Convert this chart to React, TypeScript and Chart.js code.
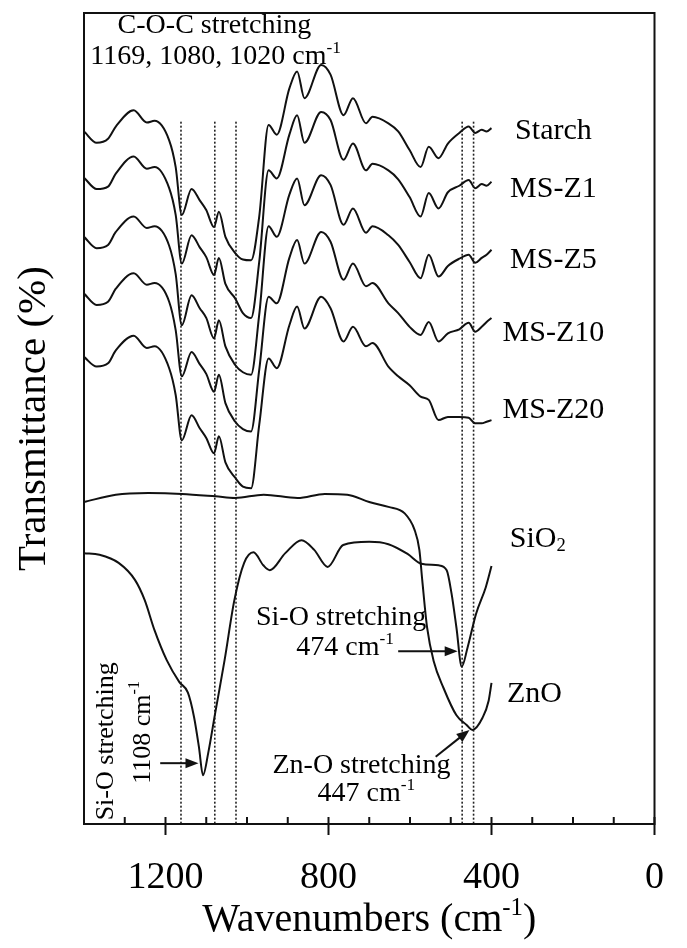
import React, { useEffect, useRef } from 'react';
import { Chart, registerables } from 'chart.js';

Chart.register(...registerables);

const FONT = "'Liberation Serif', 'Times New Roman', serif";
const INK = '#111111';

// ---- data (wavenumber in cm-1, transmittance in arbitrary stacked % units) ----
const msWavenumbers = [1400, 1369, 1341, 1322, 1278, 1246, 1227, 1191, 1175, 1160, 1136, 1116, 1100, 1081, 1069, 1053, 1029, 1010, 990, 970, 947, 927, 896, 877, 859, 818, 795, 763, 740, 708, 692, 653, 629, 601, 574, 554, 530, 507, 479, 456, 440, 424, 412, 400];
const starchT = [85.4, 84.0, 84.5, 86.0, 88.0, 86.5, 86.7, 84.3, 81.0, 75.1, 78.3, 76.9, 75.7, 73.6, 75.5, 72.4, 70.4, 69.6, 69.5, 74.9, 86.2, 85.0, 90.7, 92.8, 89.5, 93.6, 92.4, 87.4, 89.5, 86.4, 87.2, 86.4, 85.4, 83.1, 81.0, 83.5, 82.1, 83.9, 85.2, 86.0, 85.2, 85.6, 85.4, 85.8];
const msZ1T = [79.7, 78.3, 78.6, 80.2, 82.3, 80.8, 81.0, 78.4, 75.1, 69.1, 72.6, 71.1, 69.9, 67.7, 69.8, 66.6, 64.8, 63.0, 62.4, 69.3, 80.6, 79.6, 85.0, 87.4, 84.0, 87.8, 86.8, 81.9, 83.9, 80.6, 81.4, 80.6, 79.5, 77.3, 74.9, 77.8, 75.9, 77.9, 78.7, 79.4, 78.4, 78.9, 78.7, 79.2];
const msZ5T = [72.4, 71.0, 71.4, 73.0, 74.9, 73.5, 73.7, 71.3, 67.8, 61.5, 65.2, 63.6, 62.4, 59.9, 62.1, 58.9, 56.6, 55.7, 55.4, 62.8, 73.7, 72.4, 77.6, 79.6, 76.3, 80.0, 78.8, 73.9, 75.9, 72.9, 73.7, 72.6, 71.4, 69.3, 67.3, 70.2, 67.5, 68.8, 69.7, 70.2, 69.2, 69.8, 70.2, 70.8];
const msZ10T = [65.4, 64.0, 64.4, 66.0, 67.9, 66.5, 66.7, 64.4, 60.9, 55.2, 58.2, 56.7, 55.5, 53.3, 55.4, 51.9, 49.6, 48.7, 48.4, 56.0, 65.0, 64.2, 69.8, 72.0, 69.1, 73.0, 71.8, 67.1, 69.1, 66.3, 66.7, 64.2, 63.0, 61.3, 60.3, 61.9, 59.5, 60.5, 61.0, 61.8, 60.7, 61.3, 61.9, 62.4];
const msZ20T = [57.6, 56.4, 56.8, 58.4, 60.2, 58.7, 58.9, 56.2, 52.9, 47.3, 50.4, 48.8, 47.6, 45.7, 47.8, 44.6, 42.7, 41.6, 41.4, 49.2, 57.4, 56.2, 61.5, 63.8, 61.1, 65.0, 63.6, 59.5, 61.3, 58.9, 59.3, 56.4, 55.2, 54.1, 52.7, 52.3, 49.8, 50.2, 50.2, 50.1, 49.4, 49.4, 49.6, 49.8];

const sio2Wavenumbers = [1400, 1362, 1315, 1275, 1251, 1227, 1197, 1166, 1145, 1130, 1118, 1108, 1095, 1078, 1055, 1031, 1007, 984, 960, 944, 906, 866, 835, 802, 764, 700, 653, 606, 572, 530, 510, 498, 486, 473, 459, 438, 414, 400];
const sio2T = [33.4, 33.2, 32.2, 30.1, 27.6, 23.9, 20.2, 17.5, 16.2, 13.2, 9.5, 6.0, 8.8, 13.7, 20.2, 27.6, 32.2, 33.5, 31.9, 31.3, 33.4, 35.0, 33.8, 31.7, 34.4, 34.8, 34.5, 33.3, 32.1, 31.9, 31.3, 28.4, 24.2, 19.4, 21.7, 25.9, 29.2, 31.8];

const znoWavenumbers = [1400, 1322, 1242, 1160, 1077, 1029, 959, 876, 809, 754, 700, 653, 613, 589, 577, 570, 558, 542, 518, 486, 461, 447, 422, 407, 400];
const znoT = [39.7, 40.6, 40.8, 40.7, 40.4, 40.2, 40.6, 40.2, 40.7, 40.6, 39.7, 39.1, 38.3, 36.3, 33.8, 30.1, 24.2, 20.1, 16.8, 13.4, 12.2, 11.6, 13.1, 15.2, 17.4];

const xMin = 0;
const xMax = 1400;
const xMinorStep = 100;
const xMajorStep = 400;
const yMin = 0;
const yMax = 100;

// dotted guide lines (wavenumbers) and their top (transmittance units)
const guideLines = [1162, 1079, 1027, 472, 444];
const guideTop = 86.6;

type Seg = { t: string; k?: 'sup' | 'sub' };
type Note = { segs: Seg[]; x: number; y: number; size: number; align: 'left' | 'center'; rotate?: boolean };

const xTitle: Seg[] = [{ t: 'Wavenumbers (cm' }, { t: '-1', k: 'sup' }, { t: ')' }];

const seriesLabels: Note[] = [
  { segs: [{ t: 'Starch' }], x: 248, y: 85.4, size: 30, align: 'center' },
  { segs: [{ t: 'MS-Z1' }], x: 248, y: 78.3, size: 30, align: 'center' },
  { segs: [{ t: 'MS-Z5' }], x: 248, y: 69.5, size: 30, align: 'center' },
  { segs: [{ t: 'MS-Z10' }], x: 248, y: 60.5, size: 30, align: 'center' },
  { segs: [{ t: 'MS-Z20' }], x: 248, y: 51.0, size: 30, align: 'center' },
  { segs: [{ t: 'SiO' }, { t: '2', k: 'sub' }], x: 355, y: 35.1, size: 30, align: 'left' },
  { segs: [{ t: 'ZnO' }], x: 362, y: 16.0, size: 30, align: 'left' },
];

const notes: Note[] = [
  { segs: [{ t: 'C-O-C stretching' }], x: 1080, y: 98.5, size: 28, align: 'center' },
  { segs: [{ t: '1169, 1080, 1020 cm' }, { t: '-1', k: 'sup' }], x: 1077, y: 94.6, size: 28, align: 'center' },
  { segs: [{ t: 'Si-O stretching' }], x: 769, y: 25.5, size: 28, align: 'center' },
  { segs: [{ t: '474 cm' }, { t: '-1', k: 'sup' }], x: 759, y: 21.7, size: 28, align: 'center' },
  { segs: [{ t: 'Zn-O stretching' }], x: 719, y: 7.2, size: 28, align: 'center' },
  { segs: [{ t: '447 cm' }, { t: '-1', k: 'sup' }], x: 707, y: 3.7, size: 28, align: 'center' },
  { segs: [{ t: 'Si-O stretching' }], x: 1346, y: 10.2, size: 26, align: 'center', rotate: true },
  { segs: [{ t: '1108 cm' }, { t: '-1', k: 'sup' }], x: 1256, y: 11.3, size: 26, align: 'center', rotate: true },
];

const arrows = [
  { from: [1213, 7.5], to: [1119, 7.5] },
  { from: [629, 21.3], to: [483, 21.3] },
  { from: [537, 8.3], to: [454, 11.6] },
];

function drawRich(ctx: CanvasRenderingContext2D, segs: Seg[], x: number, y: number, size: number, align: 'left' | 'center') {
  const parts = segs.map((s) => {
    const fs = s.k ? size * 0.62 : size;
    ctx.font = `${fs}px ${FONT}`;
    return { ...s, fs, w: ctx.measureText(s.t).width };
  });
  const total = parts.reduce((a, p) => a + p.w, 0);
  let cx = align === 'center' ? x - total / 2 : x;
  ctx.textAlign = 'left';
  ctx.textBaseline = 'middle';
  for (const p of parts) {
    ctx.font = `${p.fs}px ${FONT}`;
    const dy = p.k === 'sup' ? -size * 0.3 : p.k === 'sub' ? size * 0.22 : 0;
    ctx.fillText(p.t, cx, y + dy);
    cx += p.w;
  }
}

function drawArrow(ctx: CanvasRenderingContext2D, x1: number, y1: number, x2: number, y2: number) {
  const ang = Math.atan2(y2 - y1, x2 - x1);
  const L = 13;
  const W = 5;
  ctx.beginPath();
  ctx.moveTo(x1, y1);
  ctx.lineTo(x2 - L * 0.8 * Math.cos(ang), y2 - L * 0.8 * Math.sin(ang));
  ctx.stroke();
  ctx.beginPath();
  ctx.moveTo(x2, y2);
  ctx.lineTo(x2 - L * Math.cos(ang) + W * Math.sin(ang), y2 - L * Math.sin(ang) - W * Math.cos(ang));
  ctx.lineTo(x2 - L * Math.cos(ang) - W * Math.sin(ang), y2 - L * Math.sin(ang) + W * Math.cos(ang));
  ctx.closePath();
  ctx.fill();
}

const decorPlugin = {
  id: 'decor',
  beforeDatasetsDraw(chart: any) {
    const { ctx, chartArea: a, scales } = chart;
    const x = scales.x;
    const y = scales.y;
    ctx.save();
    ctx.strokeStyle = '#222';
    ctx.lineWidth = 1.6;
    ctx.setLineDash([2, 2]);
    for (const w of guideLines) {
      const px = x.getPixelForValue(w);
      ctx.beginPath();
      ctx.moveTo(px, y.getPixelForValue(guideTop));
      ctx.lineTo(px, a.bottom);
      ctx.stroke();
    }
    ctx.restore();
  },
  afterDraw(chart: any) {
    const { ctx, chartArea: a, scales } = chart;
    const x = scales.x;
    const y = scales.y;
    ctx.save();
    ctx.strokeStyle = INK;
    ctx.fillStyle = INK;
    ctx.lineWidth = 2;
    ctx.strokeRect(a.left, a.top, a.right - a.left, a.bottom - a.top);
    for (const t of x.ticks) {
      const px = x.getPixelForValue(t.value);
      const major = t.value % xMajorStep === 0;
      ctx.beginPath();
      ctx.moveTo(px, a.bottom - 7);
      ctx.lineTo(px, major ? a.bottom + 11 : a.bottom);
      ctx.stroke();
    }
    ctx.lineWidth = 2;
    for (const ar of arrows) {
      drawArrow(
        ctx,
        x.getPixelForValue(ar.from[0]),
        y.getPixelForValue(ar.from[1]),
        x.getPixelForValue(ar.to[0]),
        y.getPixelForValue(ar.to[1])
      );
    }
    ctx.fillStyle = '#000';
    for (const n of [...seriesLabels, ...notes]) {
      const px = x.getPixelForValue(n.x);
      const py = y.getPixelForValue(n.y);
      if (n.rotate) {
        ctx.save();
        ctx.translate(px, py);
        ctx.rotate(-Math.PI / 2);
        drawRich(ctx, n.segs, 0, 0, n.size, n.align);
        ctx.restore();
      } else {
        drawRich(ctx, n.segs, px, py, n.size, n.align);
      }
    }
    // x-axis title with a real superscript, centred under the plot area
    drawRich(ctx, xTitle, (a.left + a.right) / 2, x.bottom - 28, 40, 'center');
    ctx.restore();
  },
};

function series(wn: number[], t: number[]) {
  return wn.map((w, i) => ({ x: w, y: t[i] }));
}

export default function App() {
  const ref = useRef<HTMLCanvasElement>(null);
  useEffect(() => {
    const lineStyle = {
      borderColor: INK,
      borderWidth: 2,
      pointRadius: 0,
      fill: false,
      cubicInterpolationMode: 'monotone' as const,
    };
    const chart = new Chart(ref.current as HTMLCanvasElement, {
      type: 'line',
      data: {
        datasets: [
          { label: 'Starch', data: series(msWavenumbers, starchT), ...lineStyle },
          { label: 'MS-Z1', data: series(msWavenumbers, msZ1T), ...lineStyle },
          { label: 'MS-Z5', data: series(msWavenumbers, msZ5T), ...lineStyle },
          { label: 'MS-Z10', data: series(msWavenumbers, msZ10T), ...lineStyle },
          { label: 'MS-Z20', data: series(msWavenumbers, msZ20T), ...lineStyle },
          { label: 'SiO2', data: series(sio2Wavenumbers, sio2T), ...lineStyle },
          { label: 'ZnO', data: series(znoWavenumbers, znoT), ...lineStyle },
        ],
      },
      options: {
        responsive: false,
        animation: false,
        layout: { padding: { top: 13, right: 11, left: 0, bottom: 0 } },
        plugins: { legend: { display: false }, tooltip: { enabled: false } },
        scales: {
          x: {
            type: 'linear',
            min: xMin,
            max: xMax,
            reverse: true,
            grid: { display: false },
            border: { display: false },
            ticks: {
              stepSize: xMinorStep,
              autoSkip: false,
              maxRotation: 0,
              padding: 23,
              color: '#000',
              font: { family: FONT, size: 38 },
              callback: (v: any) => (Number(v) % xMajorStep === 0 ? String(v) : ''),
            },
            title: { display: false },
            afterFit: (s: any) => {
              s.height = 124;
            },
          },
          y: {
            type: 'linear',
            min: yMin,
            max: yMax,
            grid: { display: false },
            border: { display: false },
            ticks: { display: false },
            title: {
              display: true,
              text: 'Transmittance (%)',
              color: '#000',
              font: { family: FONT, size: 41 },
              padding: { top: 10, bottom: 0 },
            },
            afterFit: (s: any) => {
              s.width = 84;
            },
          },
        },
      },
      plugins: [decorPlugin],
    });
    return () => chart.destroy();
  }, []);
  return (
    <div style={{ position: 'absolute', left: 0, top: 0, width: 687, height: 948, background: '#fff' }}>
      <canvas ref={ref} width={687} height={948} style={{ display: 'block' }} />
    </div>
  );
}
